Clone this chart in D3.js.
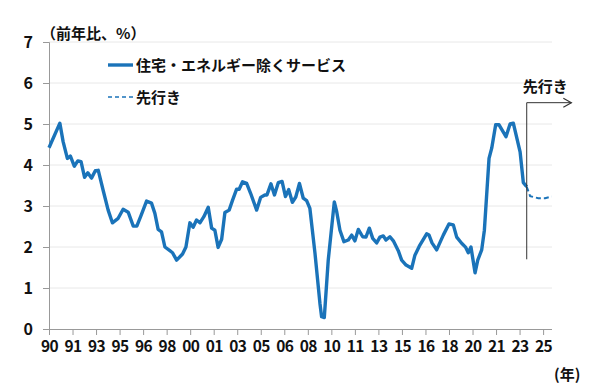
<!DOCTYPE html>
<html>
<head>
<meta charset="utf-8">
<script src="https://cdn.jsdelivr.net/npm/d3@7"></script>
<style>
  body { margin: 0; background: #fff; }
  svg text { font-family: "Noto Sans CJK JP", "Noto Sans", sans-serif; fill: #111; }
</style>
</head>
<body>
<svg id="chart" width="600" height="384"></svg>
<script>
// 実績（年、前年比%）
const years = [1990.00, 1990.77, 1991.00, 1991.30, 1991.51, 1991.79, 1992.04, 1992.27, 1992.52, 1992.75,
  1993.01, 1993.28, 1993.49, 1993.83, 1994.19, 1994.49, 1994.90, 1995.25, 1995.61, 1995.97,
  1996.22, 1996.51, 1996.91, 1997.26, 1997.50, 1997.73, 1997.97, 1998.21, 1998.56, 1998.75,
  1999.04, 1999.46, 1999.70, 1999.98, 2000.21, 2000.45, 2000.69, 2000.97, 2001.28, 2001.52,
  2001.75, 2001.98, 2002.23, 2002.46, 2002.76, 2003.01, 2003.29, 2003.47, 2003.71, 2004.00,
  2004.28, 2004.71, 2004.99, 2005.29, 2005.44, 2005.72, 2005.97, 2006.24, 2006.51, 2006.75,
  2006.98, 2007.24, 2007.48, 2007.74, 2008.01, 2008.25, 2008.48, 2008.84, 2009.19, 2009.31,
  2009.50, 2009.78, 2010.21, 2010.38, 2010.61, 2010.89, 2011.20, 2011.44, 2011.67, 2011.91,
  2012.22, 2012.45, 2012.69, 2012.93, 2013.21, 2013.44, 2013.68, 2013.87, 2014.15, 2014.39,
  2014.74, 2014.98, 2015.29, 2015.69, 2015.92, 2016.23, 2016.56, 2016.75, 2016.92, 2017.13,
  2017.46, 2017.93, 2018.33, 2018.64, 2018.88, 2019.23, 2019.52, 2019.70, 2019.89, 2020.18,
  2020.37, 2020.65, 2020.84, 2021.17, 2021.36, 2021.64, 2021.88, 2022.37, 2022.66, 2022.89,
  2023.37, 2023.60, 2023.84];
const values = [4.42, 5.02, 4.57, 4.16, 4.22, 3.97, 4.10, 4.08, 3.70, 3.81,
  3.68, 3.86, 3.87, 3.39, 2.90, 2.59, 2.70, 2.92, 2.85, 2.51,
  2.51, 2.76, 3.12, 3.07, 2.82, 2.43, 2.37, 2.00, 1.91, 1.86,
  1.68, 1.83, 2.00, 2.59, 2.48, 2.66, 2.59, 2.74, 2.97, 2.46,
  2.41, 1.99, 2.19, 2.84, 2.90, 3.15, 3.41, 3.41, 3.59, 3.55,
  3.31, 2.90, 3.21, 3.27, 3.27, 3.54, 3.27, 3.57, 3.60, 3.23,
  3.40, 3.09, 3.22, 3.55, 3.19, 3.13, 2.94, 1.85, 0.63, 0.30,
  0.28, 1.68, 3.10, 2.86, 2.41, 2.13, 2.17, 2.29, 2.15, 2.43,
  2.25, 2.24, 2.46, 2.21, 2.10, 2.24, 2.27, 2.17, 2.25, 2.15,
  1.91, 1.68, 1.56, 1.48, 1.80, 2.02, 2.21, 2.32, 2.29, 2.10,
  1.93, 2.29, 2.56, 2.54, 2.24, 2.09, 1.99, 1.86, 2.00, 1.37,
  1.68, 1.93, 2.41, 4.16, 4.41, 4.98, 4.98, 4.69, 5.00, 5.02,
  4.32, 3.57, 3.47];

// 先行き
const fcYears = [2023.84, 2024.08, 2024.66, 2025.14, 2025.61];
const fcValues = [3.47, 3.24, 3.19, 3.19, 3.23];

// 目盛り（20か月ごと）
const tickLabels = ["90", "91", "93", "95", "96", "98", "00", "01", "03", "05", "06",
  "08", "10", "11", "13", "15", "16", "18", "20", "21", "23", "25"];
const yTicks = [0, 1, 2, 3, 4, 5, 6, 7];

const seriesName = "住宅・エネルギー除くサービス";
const fcName = "先行き";

const blue = "#1a73b9";
const svg = d3.select("#chart");

const x = d3.scaleLinear().domain([1990, 2025.63]).range([49, 552]);
const y = d3.scaleLinear().domain([0, 7]).range([329, 42]);

// grid
svg.append("g")
  .selectAll("line")
  .data(yTicks.slice(1))
  .enter().append("line")
  .attr("x1", x(1990)).attr("x2", x(2025.63))
  .attr("y1", d => y(d)).attr("y2", d => y(d))
  .attr("stroke", "#e8e8e8").attr("stroke-width", 1);

// y axis
const yAxis = d3.axisLeft(y).tickValues(yTicks).tickSize(6).tickPadding(10).tickFormat(d3.format("d"));
const gy = svg.append("g").attr("transform", `translate(${x(1990)},0)`).call(yAxis);
gy.select(".domain").attr("stroke", "#999");
gy.selectAll(".tick line").attr("stroke", "#999");
gy.selectAll(".tick text").style("font-size", "16px").style("font-weight", "bold").attr("fill", "#111");

// x axis
const tickYears = tickLabels.map((d, i) => 1990 + i * 20 / 12);
const xAxis = d3.axisBottom(x).tickValues(tickYears).tickSize(6).tickPadding(6)
  .tickFormat((d, i) => tickLabels[i]);
const gx = svg.append("g").attr("transform", `translate(0,${y(0)})`).call(xAxis);
gx.select(".domain").attr("stroke", "#999").attr("d", `M${x(1990)},0.5H${x(2025.63)}`);
gx.selectAll(".tick line").attr("stroke", "#999");
gx.selectAll(".tick text").style("font-size", "15.5px").style("font-weight", "bold")
  .style("letter-spacing", "-0.6px").attr("fill", "#111");

// lines
const line = d3.line().x(d => x(d[0])).y(d => y(d[1]));
svg.append("path")
  .datum(d3.zip(years, values))
  .attr("d", line)
  .attr("fill", "none").attr("stroke", blue)
  .attr("stroke-width", 3.4).attr("stroke-linejoin", "round");

svg.append("path")
  .datum(d3.zip(fcYears, fcValues))
  .attr("d", line)
  .attr("fill", "none").attr("stroke", blue)
  .attr("stroke-width", 2).attr("stroke-dasharray", "5,3");

// 先行き marker
const xs = x(2023.84);
svg.append("path")
  .attr("d", `M${xs},${y(1.7)}V${y(5.52)}H${x(2027)}`)
  .attr("fill", "none").attr("stroke", "#333").attr("stroke-width", 1);
svg.append("path")
  .attr("d", `M${x(2027) - 8},${y(5.52) - 4.5}L${x(2027)},${y(5.52)}L${x(2027) - 8},${y(5.52) + 4.5}`)
  .attr("fill", "none").attr("stroke", "#333").attr("stroke-width", 1.2);
svg.append("text")
  .attr("x", xs - 4).attr("y", y(5.52) - 11)
  .style("font-size", "15px").style("font-weight", "bold")
  .text(fcName);

// legend
const lg = svg.append("g");
lg.append("line").attr("x1", 108).attr("x2", 133).attr("y1", 65).attr("y2", 65)
  .attr("stroke", blue).attr("stroke-width", 3.4);
lg.append("text").attr("x", 136).attr("y", 70.5)
  .style("font-size", "15px").style("font-weight", "bold").text(seriesName);
lg.append("line").attr("x1", 108).attr("x2", 133).attr("y1", 97).attr("y2", 97)
  .attr("stroke", blue).attr("stroke-width", 1.6).attr("stroke-dasharray", "4,3");
lg.append("text").attr("x", 136).attr("y", 102.5)
  .style("font-size", "15px").style("font-weight", "bold").text(fcName);

// axis titles
svg.append("text").attr("x", 41).attr("y", 38.5)
  .style("font-size", "15px").style("font-weight", "bold").text("（前年比、%）");
svg.append("text").attr("x", 554).attr("y", 380)
  .style("font-size", "15px").style("font-weight", "bold").text("(年)");
</script>
</body>
</html>
